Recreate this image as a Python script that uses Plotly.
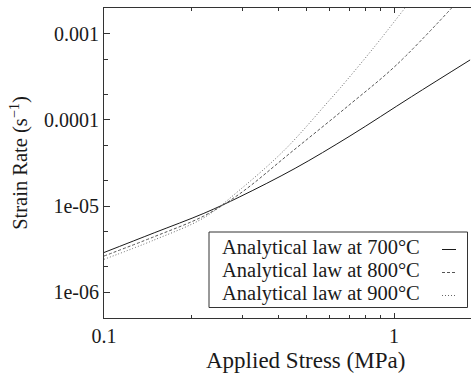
import plotly.graph_objects as go

# Applied stress (MPa) and strain rate (1/s) along each analytical curve
stress_700 = [0.1, 0.149, 0.221, 0.294, 0.456, 0.705, 1.15, 1.83]
rate_700 = [2.88e-6, 4.88e-6, 8.22e-6, 1.28e-5, 2.74e-5, 6.52e-5, 1.87e-4, 4.99e-4]

stress_800 = [0.1, 0.149, 0.221, 0.294, 0.445, 0.705, 1.02, 1.58]
rate_800 = [2.62e-6, 4.40e-6, 7.66e-6, 1.39e-5, 4.30e-5, 1.52e-4, 4.37e-4, 2.0e-3]

stress_900 = [0.1, 0.149, 0.221, 0.294, 0.421, 0.60, 0.652, 0.848, 1.09]
rate_900 = [2.40e-6, 4.03e-6, 7.31e-6, 1.54e-5, 4.54e-5, 1.71e-4, 2.35e-4, 6.82e-4, 2.0e-3]

labels = ["Analytical law at 700°C", "Analytical law at 800°C", "Analytical law at 900°C"]

y_tickvals = [1e-6, 1e-5, 1e-4, 1e-3]
y_ticktext = ["1e-06", "1e-05", "0.0001", "0.001"]
x_tickvals = [0.1, 1]
x_ticktext = ["0.1", "1"]

W, H = 471, 374
L, R, T, B = 104, 0, 8, 56
FONT = "'Liberation Serif', 'Times New Roman', Times, serif"
TEXT = "#1a1a1a"

series = [
    (stress_700, rate_700, dict(color="#1a1a1a", width=1, dash="solid")),
    (stress_800, rate_800, dict(color="#555555", width=1, dash="3px,2px")),
    (stress_900, rate_900, dict(color="#666666", width=1, dash="1px,2px")),
]

fig = go.Figure()
for (xs, ys, line), name in zip(series, labels):
    fig.add_trace(go.Scatter(x=xs, y=ys, mode="lines", name=name,
                             line=dict(shape="spline", smoothing=1.0, **line),
                             showlegend=False, hoverinfo="skip"))

pw, ph = W - L - R, H - T - B


def px_x(p):
    return (p - L) / pw


def px_y(p):
    return (H - B - p) / ph


# Boxed key with the line samples to the right of each label
fig.add_shape(type="rect", xref="paper", yref="paper",
              x0=px_x(209), x1=px_x(467.5), y0=px_y(307.5), y1=px_y(232),
              line=dict(color="#333333", width=1), fillcolor="white", layer="above")
row_y = [247.5, 270.5, 293.5]
for (xs, ys, line), name, ry in zip(series, labels, row_y):
    fig.add_annotation(text=name, xref="paper", yref="paper",
                       x=px_x(220), y=px_y(ry), xanchor="left", yanchor="middle",
                       showarrow=False, font=dict(family=FONT, size=20.5, color=TEXT))
    fig.add_shape(type="line", xref="paper", yref="paper",
                  x0=px_x(442), x1=px_x(456), y0=px_y(ry + 2), y1=px_y(ry + 2),
                  line=line, layer="above")

# x-axis title, centred under the full stress axis
fig.add_annotation(text="Applied Stress (MPa)", xref="paper", yref="paper",
                   x=px_x(305.5), y=px_y(360), xanchor="center", yanchor="middle",
                   showarrow=False, font=dict(family=FONT, size=23, color=TEXT))

tick_font = dict(family=FONT, size=20, color=TEXT)
fig.update_xaxes(type="log", range=[-1, 0.2655],
                 tickmode="array", tickvals=x_tickvals, ticktext=x_ticktext,
                 ticks="inside", ticklen=5, tickcolor="#333333",
                 minor=dict(ticks="inside", ticklen=3, tickcolor="#333333",
                            tickmode="array",
                            tickvals=[0.2, 0.3, 0.4, 0.5, 0.6, 0.7, 0.8, 0.9]),
                 showline=True, linecolor="#333333", linewidth=1, mirror="ticks",
                 showgrid=False, zeroline=False, tickfont=tick_font)
fig.update_yaxes(type="log", range=[-6.302, -2.698],
                 tickmode="array", tickvals=y_tickvals, ticktext=y_ticktext,
                 ticks="inside", ticklen=6, tickcolor="#333333",
                 minor=dict(ticks="inside", ticklen=4, tickcolor="#333333",
                            tickmode="array",
                            tickvals=[2e-6, 5e-6, 2e-5, 5e-5, 2e-4, 5e-4]),
                 showline=True, linecolor="#333333", linewidth=1, mirror=False,
                 showgrid=False, zeroline=False, tickfont=tick_font,
                 title=dict(text="Strain Rate (s<sup>−1</sup>)",
                            font=dict(family=FONT, size=20.5, color=TEXT),
                            standoff=10))

fig.update_layout(width=W, height=H, margin=dict(l=L, r=R, t=T, b=B),
                  paper_bgcolor="white", plot_bgcolor="white",
                  font=dict(family=FONT, color=TEXT))

fig.write_html("out.html")
